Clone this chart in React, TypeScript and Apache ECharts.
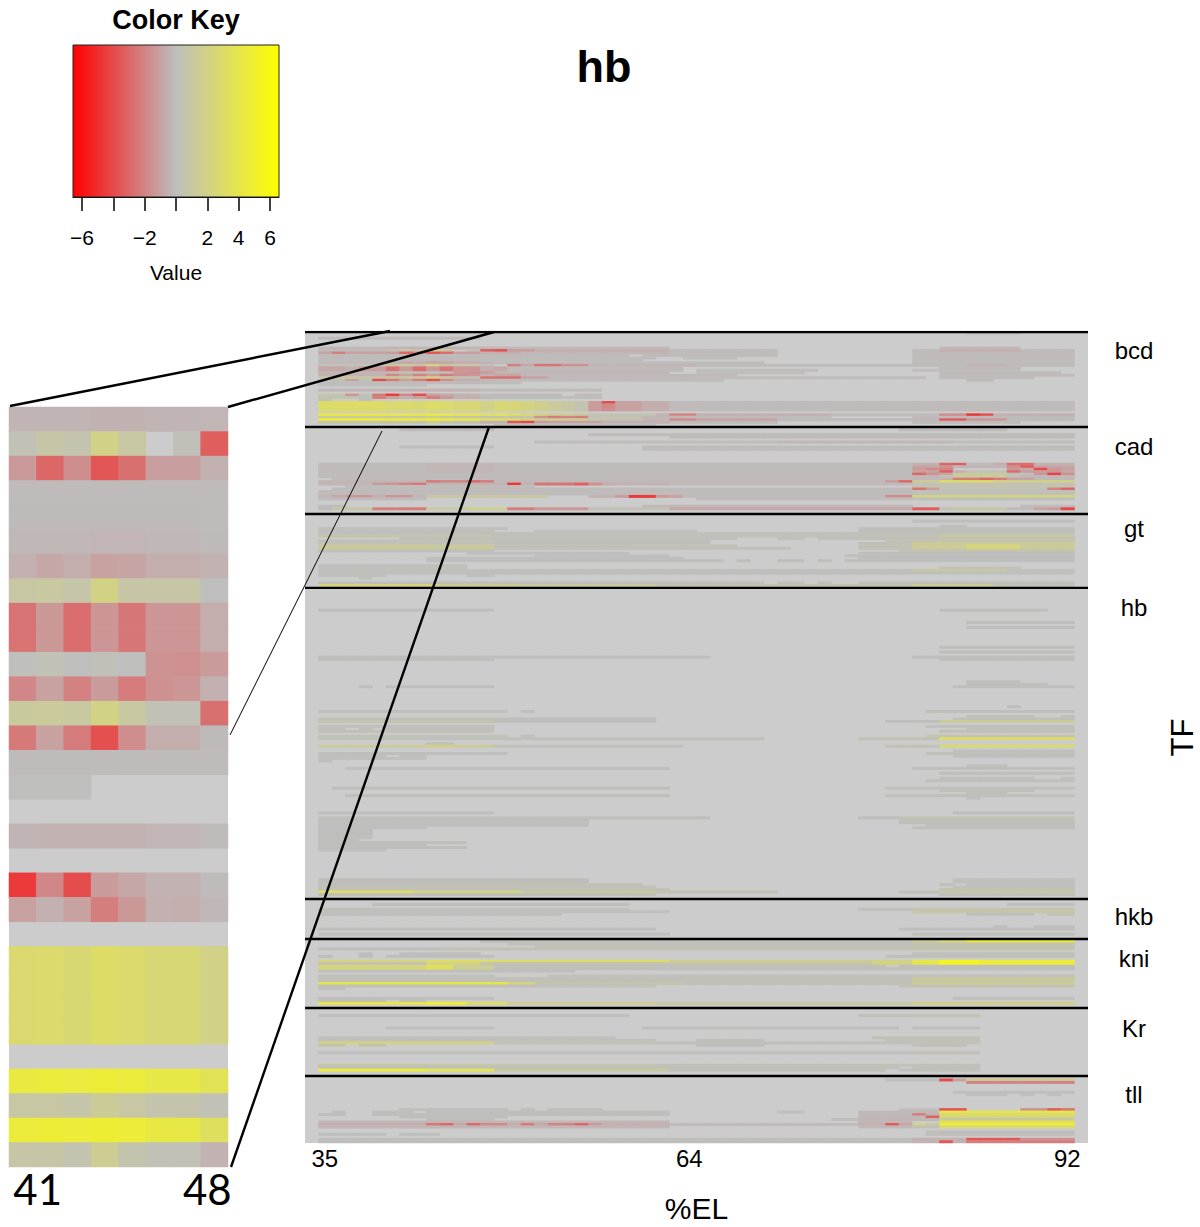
import React, { useEffect, useRef } from "react";
import * as echarts from "echarts";

type Run = [number, number, number, number];

const elColumns = Array.from({ length: 58 }, (_, i) => String(35 + i));
const detailColumns = ["41", "42", "43", "44", "45", "46", "47", "48"];
const mainTickLabels = ["35", "64", "92"];
const detailTickLabels = ["41", "48"];
const rowCount = 328;
const tfNames = ["bcd", "cad", "gt", "hb", "hkb", "kni", "Kr", "tll"];
const tfLabelRows = [7, 46, 79, 111, 236, 253, 281, 308];
const tfBoundaries = [0, 38.4, 73.6, 103.5, 229.3, 245.5, 273.4, 300.9];
const keyTicks = [-6, -4, -2, 0, 2, 4, 6];
const keyLabels = [-6, -2, 2, 4, 6];
const keyRange = 6.57;
const detailFirstRow = 6;

const n = null;
const bcdDetail: (number | null)[][] = [
  [-.35, -.35, -.35, -.45, -.45, -.35, -.35, -.3],
  [.3, .8, .55, 1.9, .9, n, .2, -3.3],
  [-1.25, -3, -1.65, -3.6, -2.7, -1.1, -1.1, -.5],
  [-.1, -.1, -.1, -.1, -.1, -.1, -.1, -.1],
  [-.15, -.15, -.15, -.15, -.15, -.15, -.15, -.1],
  [-.25, -.25, -.25, -.3, -.3, -.2, -.2, -.15],
  [-.5, -.8, -.6, -1, -.9, -.6, -.6, -.4],
  [.9, 1, .7, 2, .8, .8, .8, .05],
  [-2.6, -1.3, -2.8, -1.4, -2.5, -1.4, -1.4, -.6],
  [-2.6, -1.3, -2.8, -1.4, -2.5, -1.4, -1.4, -.6],
  [.1, .3, .05, .2, .05, -1.5, -1.6, -1.2],
  [-1.9, -1, -2.1, -1.2, -2.3, -1.6, -1.4, -.5],
  [1.1, 1.2, 1, 2, 1, .3, .3, -2.7],
  [-2.4, -1, -2.3, -3.8, -1.7, -.6, -.6, -.15],
  [-.1, -.1, -.1, -.1, -.1, -.1, -.1, -.1],
  [.05, .05, .05, n, n, n, n, n],
  [n, n, n, n, n, n, n, n],
  [-.35, -.4, -.4, -.4, -.4, -.3, -.3, -.1],
  [n, n, n, n, n, n, n, n],
  [-4.6, -1.9, -3.9, -1.2, -.8, -.4, -.4, -.1],
  [-1, -.5, -1, -2.2, -1.3, -.5, -.6, -.2],
  [n, n, n, n, n, n, n, n],
  [2.7, 2.8, 2.6, 3, 2.8, 2.5, 2.5, 1.9],
  [2.7, 2.8, 2.6, 3, 2.8, 2.5, 2.5, 1.9],
  [2.7, 2.8, 2.6, 3, 2.8, 2.5, 2.5, 1.9],
  [2.7, 2.8, 2.6, 3, 2.8, 2.5, 2.5, 1.9],
  [n, n, n, n, n, n, n, n],
  [4.3, 4.5, 4.4, 4.7, 4.5, 4.1, 4.1, 3.6],
  [.9, .9, .7, 1.3, .9, .6, .6, .3],
  [4.5, 4.7, 4.6, 4.8, 4.6, 4.2, 4.1, 3.3],
  [.8, .8, .5, 1.5, .6, .3, .3, -.4],
];

const bcdRuns: Run[] = [
  [0, 84, 87, .03], [2, 36, 47, -.1],
  [6, 36, 40, -.2], [6, 49, 61, -.2], [6, 82, 87, -.2],
  [7, 36, 40, -.15], [7, 49, 49, -3.8], [7, 50, 51, -1.2], [7, 52, 61, -.6], [7, 62, 69, -.1], [7, 80, 81, -.1], [7, 82, 87, -.6], [7, 88, 91, -.1],
  [8, 36, 36, -.9], [8, 37, 37, -2.2], [8, 38, 40, -1], [8, 49, 50, -.6], [8, 51, 61, -.3], [8, 62, 69, -.1], [8, 80, 91, -.1],
  [9, 36, 40, -.1], [9, 49, 58, -.1], [9, 60, 69, -.1], [9, 80, 91, -.1],
  [10, 36, 40, -.1], [10, 49, 60, -.1], [10, 63, 66, -.05], [10, 80, 91, -.1],
  [11, 36, 40, -.1], [11, 49, 59, -.1], [11, 80, 91, -.1],
  [12, 36, 40, -.15], [12, 49, 68, -.1], [12, 80, 91, -.1],
  [13, 36, 40, .3], [13, 50, 50, -2.2], [13, 51, 51, -.8], [13, 52, 53, -2.6], [13, 54, 55, -1.6], [13, 56, 63, -.3], [13, 64, 79, -.08], [13, 80, 83, -.1], [13, 84, 86, -.4], [13, 87, 91, -.1],
  [14, 36, 37, -.8], [14, 38, 38, -.5], [14, 39, 40, -1.2], [14, 49, 49, -.9], [14, 50, 62, -.15], [14, 82, 87, -.1],
  [15, 36, 37, -.8], [15, 38, 38, -.5], [15, 39, 40, -1.2], [15, 49, 49, -.7], [15, 50, 62, -.15], [15, 64, 72, -.08], [15, 80, 81, -.08], [15, 82, 87, -.1],
  [16, 36, 40, -.3], [16, 49, 61, -.3], [16, 64, 71, -.08], [16, 82, 90, -.1],
  [17, 36, 40, -.4], [17, 49, 49, -.8], [17, 50, 50, -1], [17, 51, 64, -.2], [17, 65, 66, -.1], [17, 82, 91, -.1],
  [18, 36, 38, 1], [18, 39, 40, .9], [18, 49, 50, -2.7], [18, 51, 52, -1], [18, 53, 63, -.2], [18, 64, 80, -.06], [18, 82, 88, -.1],
  [19, 36, 37, .2], [19, 38, 38, -1], [19, 39, 39, .2], [19, 40, 40, -4], [19, 49, 65, -.1], [19, 84, 85, -.1],
  [20, 36, 40, -.05], [20, 49, 50, -.05],
  [21, 36, 40, .05],
  [23, 36, 40, -.3], [23, 49, 56, -.15],
  [25, 36, 36, .7], [25, 37, 37, .6], [25, 38, 38, -1.4], [25, 39, 39, .3], [25, 40, 40, -2.4], [25, 49, 53, -.15], [25, 55, 56, -.1],
  [26, 36, 38, .5], [26, 39, 39, .1], [26, 40, 40, -2.2], [26, 49, 55, .05], [26, 56, 56, .05],
  [27, 36, 36, .2], [27, 39, 39, .05],
  [28, 36, 40, 3], [28, 49, 49, 2.6], [28, 50, 50, 2.4], [28, 51, 51, 2.1], [28, 52, 52, 1.7], [28, 53, 53, 1.2], [28, 54, 54, .9], [28, 55, 55, .5], [28, 56, 56, -1.2], [28, 57, 57, -3.8], [28, 58, 59, -1], [28, 60, 61, -.6], [28, 62, 91, -.1],
  [29, 36, 40, 3], [29, 49, 49, 2.6], [29, 50, 50, 2.4], [29, 51, 51, 2.1], [29, 52, 52, 1.7], [29, 53, 53, 1.2], [29, 54, 54, .9], [29, 55, 55, .5], [29, 56, 56, -1.2], [29, 57, 57, -1.8], [29, 58, 59, -1], [29, 60, 61, -.6], [29, 62, 91, -.1],
  [30, 36, 40, 3], [30, 49, 49, 2.6], [30, 50, 50, 2.4], [30, 51, 51, 2.1], [30, 52, 52, 1.7], [30, 53, 53, 1.2], [30, 54, 54, .9], [30, 55, 55, .5], [30, 56, 56, -1.2], [30, 57, 57, -1.8], [30, 58, 59, -1], [30, 60, 61, -.6], [30, 62, 91, -.1],
  [31, 36, 40, 3], [31, 49, 49, 2.6], [31, 50, 50, 2.4], [31, 51, 51, 2.1], [31, 52, 52, 1.7], [31, 53, 53, 1.2], [31, 54, 54, .9], [31, 55, 55, .5], [31, 56, 56, -1.2], [31, 57, 57, -1.7], [31, 58, 59, -1], [31, 60, 61, -.6], [31, 62, 91, -.1],
  [33, 36, 40, 4.6], [33, 49, 49, 3.8], [33, 50, 50, 3.3], [33, 51, 51, 2.7], [33, 52, 52, 2.2], [33, 53, 54, 1.6], [33, 55, 55, 1.1], [33, 56, 60, .4], [33, 61, 61, -.4], [33, 62, 63, -2], [33, 64, 73, -.5], [33, 74, 79, -.1], [33, 80, 81, -.1], [33, 82, 83, -1.7], [33, 84, 84, -4.8], [33, 85, 85, -3.8], [33, 86, 91, -.5],
  [34, 36, 40, 1], [34, 49, 51, .5], [34, 52, 52, -1.5], [34, 53, 53, -2.3], [34, 54, 54, -2], [34, 55, 55, -2.2], [34, 56, 59, .3], [34, 60, 62, -.3], [34, 63, 73, -.1], [34, 80, 91, -.15],
  [35, 36, 40, 4.8], [35, 49, 49, 3.2], [35, 50, 50, 2.8], [35, 51, 51, 2], [35, 52, 55, 1.5], [35, 56, 59, .6], [35, 60, 61, -.3], [35, 62, 63, -1.8], [35, 64, 69, -1], [35, 70, 79, -.1], [35, 80, 81, -.3], [35, 82, 83, -3.4], [35, 84, 86, -1.4], [35, 87, 91, -.1],
  [36, 36, 40, .6], [36, 49, 49, -.4], [36, 50, 50, -3.6], [36, 51, 51, -4.2], [36, 52, 52, -1.2], [36, 53, 56, -1], [36, 57, 61, -.5], [36, 62, 69, -.1], [36, 80, 87, -.1],
  [37, 49, 60, -.08],
];

const cadRuns: Run[] = [
  [39, 42, 48, -.1], [39, 79, 86, -.1],
  [41, 56, 91, -.1], [42, 62, 91, -.1],
  [44, 52, 69, -.08], [44, 70, 82, -.3], [44, 83, 91, -.05],
  [46, 42, 48, -.08], [46, 60, 91, -.08], [47, 60, 91, -.08],
  [53, 36, 43, -.1], [53, 44, 48, -.3], [53, 49, 79, -.1], [53, 80, 81, -.5], [53, 82, 82, -3], [53, 83, 83, -3.3], [53, 84, 85, -.2], [53, 86, 86, -.6], [53, 87, 88, -2.8], [53, 89, 91, -.5],
  [54, 36, 43, -.1], [54, 44, 48, -.3], [54, 49, 79, -.1], [54, 80, 80, -1], [54, 81, 81, -.8], [54, 82, 82, -1.5], [54, 83, 86, -.3], [54, 87, 87, -1.7], [54, 88, 88, -3.4], [54, 89, 89, -1], [54, 90, 91, -.8],
  [55, 36, 43, -.1], [55, 44, 48, -.3], [55, 49, 79, -.1], [55, 80, 80, -1.2], [55, 81, 81, -1.8], [55, 82, 82, -2], [55, 87, 87, -1.3], [55, 88, 88, -.8], [55, 89, 89, -4], [55, 90, 90, -1.4], [55, 91, 91, -1],
  [56, 36, 43, -.1], [56, 44, 48, -.3], [56, 49, 79, -.1], [56, 80, 81, -1], [56, 82, 82, -3.2], [56, 83, 83, -.5], [56, 84, 86, .3], [56, 87, 87, -2.9], [56, 88, 89, -1.2], [56, 90, 90, -1.4], [56, 91, 91, -.8],
  [57, 36, 79, -.1], [57, 80, 80, -3], [57, 81, 81, -1.5], [57, 82, 82, -.8], [57, 83, 86, 1], [57, 87, 88, .2], [57, 89, 89, -1.4], [57, 90, 90, -4.4], [57, 91, 91, -1.6],
  [58, 36, 79, -.1], [58, 80, 81, -.3], [58, 82, 82, .3], [58, 83, 86, 1.3], [58, 87, 87, .3], [58, 88, 91, -.2],
  [59, 37, 79, -.1], [59, 80, 81, -.2], [59, 82, 82, -.4], [59, 83, 83, -2.2], [59, 84, 84, -2.4], [59, 85, 85, -3], [59, 86, 86, -2.3], [59, 87, 88, -.9], [59, 89, 91, -.2],
  [60, 36, 43, -.3], [60, 44, 44, -2.4], [60, 45, 46, -2], [60, 47, 47, -3], [60, 48, 48, -2.3], [60, 49, 77, -.2], [60, 78, 78, -1.2], [60, 79, 79, -3], [60, 80, 81, 1.3], [60, 82, 85, 3], [60, 86, 91, 2],
  [61, 36, 39, -.3], [61, 40, 40, -1.2], [61, 41, 41, -1.5], [61, 42, 42, -2], [61, 43, 43, -2.5], [61, 44, 49, -.4], [61, 50, 50, -4.6], [61, 51, 51, -.5], [61, 52, 53, -2.5], [61, 54, 54, -2.6], [61, 55, 55, -3.2], [61, 56, 56, -1.6], [61, 57, 57, -.6], [61, 58, 61, -.4], [61, 62, 79, -.15], [61, 80, 91, .3],
  [62, 38, 51, -.06], [62, 80, 91, .5],
  [63, 37, 79, -.1], [63, 80, 80, -2.6], [63, 81, 81, -1.2], [63, 82, 89, .3], [63, 90, 90, -2], [63, 91, 91, -3],
  [64, 36, 79, -.1], [64, 80, 91, .2],
  [65, 36, 56, -.1], [65, 57, 79, -.08], [65, 80, 91, .1],
  [66, 36, 36, -.3], [66, 37, 37, -.8], [66, 38, 39, -1.4], [66, 40, 40, -.6], [66, 41, 42, -1.4], [66, 43, 43, -.2], [66, 44, 52, .9], [66, 56, 57, -.4], [66, 58, 58, -1.1], [66, 59, 60, -4.6], [66, 61, 61, -1.2], [66, 62, 62, -1], [66, 63, 77, -.1], [66, 78, 79, -1.8], [66, 80, 91, 2.2],
  [67, 36, 43, -.1], [67, 64, 79, -.1], [67, 80, 91, .1],
  [70, 36, 37, -.1], [70, 60, 79, -.3], [70, 88, 91, -.1],
  [71, 36, 36, -.2], [71, 37, 39, .8], [71, 40, 41, -2.2], [71, 42, 43, -2.4], [71, 44, 46, 1], [71, 47, 49, 1.6], [71, 50, 51, -2.2], [71, 52, 55, -1.4], [71, 56, 61, .3], [71, 62, 79, -.8], [71, 80, 81, -3.4], [71, 82, 82, .3], [71, 83, 86, .9], [71, 87, 88, -.1], [71, 89, 89, -.9], [71, 90, 90, -1.2], [71, 91, 91, -4.2],
];

const gtRuns: Run[] = [
  [76, 80, 91, .05], [78, 82, 83, .05], [79, 36, 49, .1], [79, 76, 91, .1],
  [80, 36, 48, .1], [80, 52, 63, .1], [80, 76, 91, .15],
  [81, 36, 91, .1],
  [82, 36, 48, .6], [82, 49, 69, .2], [82, 70, 81, .3], [82, 82, 91, 1.1],
  [83, 42, 66, .1], [83, 70, 71, .1], [83, 73, 81, .15], [83, 82, 91, .4],
  [84, 36, 48, .2], [84, 49, 64, .1], [84, 78, 91, .5],
  [85, 36, 48, .3], [85, 49, 64, .15], [85, 76, 79, .15], [85, 80, 91, 1.2],
  [86, 36, 48, 1], [86, 49, 66, .2], [86, 76, 79, .3], [86, 80, 83, 1.5], [86, 84, 87, 2.4], [86, 88, 91, 1.2],
  [87, 36, 48, 1.3], [87, 49, 70, .2], [87, 76, 79, .2], [87, 80, 83, 1.2], [87, 84, 87, 2.2], [87, 88, 91, 1.3],
  [88, 36, 48, .05], [88, 79, 91, .4],
  [89, 47, 58, .05], [89, 76, 91, .05],
  [90, 52, 61, .08], [90, 75, 91, .05],
  [91, 44, 62, .05], [91, 76, 91, .05],
  [92, 44, 65, .05], [92, 67, 67, .05], [92, 70, 71, .05], [92, 73, 73, .05], [92, 75, 91, .05],
  [94, 36, 46, .1], [95, 36, 46, .1], [95, 82, 87, .3],
  [96, 36, 48, .1], [96, 49, 79, .05], [96, 80, 86, .9], [96, 87, 91, .1],
  [97, 36, 47, .1], [97, 48, 79, .05], [97, 80, 91, .1],
  [98, 36, 40, .1], [98, 47, 48, .05], [99, 39, 39, .1],
  [101, 36, 68, .06], [101, 70, 71, .06], [101, 73, 73, .06], [101, 76, 91, .1],
  [102, 36, 44, 2.2], [102, 45, 50, 1.5], [102, 51, 60, 1], [102, 61, 79, .6], [102, 80, 85, 1.4], [102, 86, 91, .3],
];

const hbRuns: Run[] = [
  [112, 36, 48, .05], [112, 82, 89, .05], [117, 84, 91, .05], [119, 84, 91, .05],
  [127, 82, 91, .05], [129, 82, 91, .05],
  [131, 36, 48, .05], [131, 49, 64, .03], [131, 80, 91, .05], [132, 36, 48, .05], [132, 82, 91, .05],
  [141, 84, 87, .05], [142, 84, 89, .05], [143, 39, 39, .05], [143, 41, 48, .05], [143, 83, 91, .05],
  [151, 87, 87, .05], [153, 36, 49, .1], [153, 51, 51, .05], [153, 81, 91, .15],
  [155, 84, 88, .05], [155, 91, 91, .05],
  [156, 36, 49, .2], [156, 50, 60, .03], [156, 83, 91, .1],
  [157, 36, 48, .5], [157, 49, 60, .05], [157, 78, 81, .05], [157, 82, 91, 1.3],
  [159, 36, 48, .1], [159, 81, 91, .1],
  [160, 36, 37, .08], [160, 39, 39, .08], [160, 41, 48, .08], [160, 84, 91, .08],
  [161, 36, 48, .2], [161, 82, 91, .2],
  [163, 36, 49, .3], [163, 51, 51, .05], [163, 81, 91, .6],
  [164, 36, 68, .1], [164, 76, 81, .3], [164, 82, 91, 3],
  [166, 44, 45, .3],
  [167, 36, 43, 1.2], [167, 44, 45, 1.8], [167, 46, 48, 1.2], [167, 49, 62, .1], [167, 78, 81, .3], [167, 82, 91, 2.6],
  [169, 83, 91, .1], [170, 36, 49, .05], [170, 81, 91, .1],
  [171, 36, 40, .08], [171, 42, 43, .08], [171, 83, 91, .05],
  [172, 36, 43, .08], [173, 36, 36, .05],
  [175, 84, 86, .05], [176, 38, 61, .05], [176, 80, 91, .05],
  [178, 82, 91, .08], [180, 82, 88, .08], [180, 91, 91, .08], [181, 81, 91, .08],
  [184, 37, 61, .05], [184, 78, 91, .08], [185, 82, 88, .08], [186, 84, 86, .05],
  [187, 38, 61, .05], [187, 78, 91, .1], [188, 84, 84, .05],
  [194, 36, 48, .05], [194, 83, 91, .05],
  [196, 36, 63, .1], [196, 64, 64, .05], [196, 76, 78, .05], [196, 79, 91, .4],
  [197, 36, 55, .05], [197, 79, 91, .1],
  [198, 36, 55, .1], [198, 79, 91, .15],
  [199, 36, 55, .05], [199, 81, 91, .05],
  [200, 36, 43, .05], [200, 80, 91, .05],
  [201, 36, 39, .05], [202, 36, 39, .05], [203, 36, 39, .05], [204, 36, 39, .05], [205, 36, 38, .05],
  [206, 36, 46, .05], [207, 36, 43, .05], [208, 36, 46, .05], [209, 36, 40, .05],
  [221, 36, 55, .15], [221, 83, 91, .08],
  [222, 36, 55, .15], [222, 83, 91, .08],
  [223, 36, 59, .2], [223, 82, 82, .08], [223, 84, 91, .08],
  [224, 36, 60, .2], [224, 83, 91, .1],
  [225, 36, 61, .3], [225, 82, 91, .3],
  [226, 36, 42, 3.3], [226, 43, 50, 2.2], [226, 51, 60, 1], [226, 61, 69, .4], [226, 79, 81, .2], [226, 82, 91, .8],
  [227, 36, 60, .2], [227, 82, 91, .1],
];

const hkbRuns: Run[] = [
  [231, 40, 58, .03], [231, 87, 91, .03],
  [233, 36, 58, .1], [233, 76, 79, .1], [233, 80, 91, .5],
  [234, 36, 61, .1], [234, 80, 91, .8],
  [235, 36, 53, .05], [235, 84, 88, .05], [235, 90, 91, .3],
  [240, 86, 86, .05], [240, 89, 91, .05],
  [241, 36, 60, .05], [241, 79, 91, .05],
  [243, 36, 61, .05], [243, 80, 91, .05],
];

const kniRuns: Run[] = [
  [246, 48, 64, .05], [246, 64, 79, .2], [246, 80, 81, 1.2], [246, 82, 83, 2.5], [246, 84, 91, 4.5],
  [247, 50, 79, .2], [247, 80, 91, .5],
  [248, 52, 79, .2], [248, 80, 91, .3],
  [249, 36, 44, .1], [249, 45, 79, .3], [249, 80, 91, .6],
  [251, 39, 39, .05], [251, 42, 47, .05], [251, 80, 91, .1],
  [252, 36, 36, .05], [252, 39, 39, .05], [252, 41, 48, .05], [252, 78, 91, .1],
  [254, 36, 43, 2.2], [254, 44, 61, 3], [254, 62, 76, 1.5], [254, 77, 79, 2], [254, 80, 81, 4], [254, 82, 84, 5.5], [254, 85, 91, 4.6],
  [255, 36, 43, .2], [255, 44, 47, 2], [255, 48, 61, .3], [255, 62, 76, .8], [255, 77, 79, 2], [255, 80, 81, 4], [255, 82, 84, 5.5], [255, 85, 91, 4.6],
  [256, 36, 43, 2.3], [256, 44, 45, 3.2], [256, 46, 48, 1.5], [256, 49, 60, .2], [256, 61, 77, .1], [256, 79, 91, .1],
  [257, 36, 43, 2.3], [257, 44, 45, 3.2], [257, 46, 48, 1.5], [257, 49, 60, .2], [257, 61, 91, .1],
  [258, 36, 54, .1],
  [260, 36, 48, .1], [260, 53, 91, .1],
  [261, 36, 79, .2], [261, 80, 91, 1.2],
  [262, 36, 79, .2], [262, 80, 91, .8],
  [263, 36, 49, 4], [263, 50, 51, 2.2], [263, 52, 62, .6], [263, 63, 79, .2], [263, 80, 91, 1.5],
  [264, 36, 50, .2], [264, 51, 60, .08], [264, 79, 91, .4],
  [265, 36, 37, .1],
  [269, 36, 48, .05], [269, 83, 91, .05],
  [270, 36, 38, .08], [270, 39, 40, .08], [270, 42, 43, .08],
  [271, 36, 43, 4], [271, 44, 46, 5], [271, 47, 49, 3], [271, 50, 60, 1.5], [271, 61, 79, .9], [271, 80, 91, 1.8],
];

const krRuns: Run[] = [
  [276, 36, 58, .05], [276, 76, 79, .1], [276, 80, 84, .4],
  [281, 41, 48, .05], [281, 60, 78, .05], [281, 80, 84, .05],
  [285, 36, 57, .1], [285, 77, 84, .2],
  [286, 36, 60, .1], [286, 64, 68, .08], [286, 78, 84, .2],
  [287, 36, 48, 2], [287, 49, 60, .4], [287, 61, 79, .1], [287, 80, 84, .3],
  [288, 36, 37, .6], [288, 39, 40, .6], [288, 64, 68, .05], [288, 80, 83, .1],
  [291, 36, 79, .1], [291, 80, 84, .3],
  [296, 36, 60, .7], [296, 61, 84, .3],
  [297, 36, 78, .1], [297, 80, 84, .1],
  [298, 36, 43, 4.5], [298, 44, 48, 3.7], [298, 49, 61, 1], [298, 62, 77, .2], [298, 79, 84, .1],
];

const tllRuns: Run[] = [
  [302, 78, 81, .05], [302, 82, 82, -4], [302, 83, 83, -1], [302, 84, 91, 1.3],
  [303, 84, 91, -2],
  [307, 83, 91, .05], [308, 84, 86, .05], [308, 88, 88, .05], [308, 90, 90, .05],
  [314, 42, 43, .05], [314, 44, 49, .05], [314, 51, 51, .05], [314, 53, 56, .05], [314, 79, 81, .05], [314, 82, 83, -3.7], [314, 88, 88, -1.5], [314, 89, 89, -1.6], [314, 90, 90, -3.5], [314, 91, 91, -2.5],
  [315, 37, 37, .05], [315, 40, 42, .05], [315, 44, 61, .05], [315, 70, 71, .05], [315, 76, 81, -.2], [315, 82, 91, 4],
  [316, 36, 37, .05], [316, 40, 61, .05], [316, 76, 79, -.2], [316, 80, 80, -2.2], [316, 81, 81, -.4], [316, 82, 91, 3],
  [317, 42, 49, .05], [317, 76, 80, -.2], [317, 81, 81, -3.2], [317, 82, 91, 2.2],
  [318, 44, 47, .05], [318, 48, 48, .05], [318, 74, 75, .05], [318, 76, 81, -.3], [318, 82, 91, 1],
  [319, 36, 61, -.3], [319, 76, 79, -.3], [319, 82, 91, 3.5],
  [320, 36, 43, -.6], [320, 44, 44, -2.5], [320, 45, 45, -3], [320, 46, 46, -.8], [320, 47, 47, -3], [320, 48, 49, -1.8], [320, 50, 50, -.6], [320, 51, 51, -2.4], [320, 52, 52, -.7], [320, 53, 54, -2], [320, 55, 55, -3], [320, 56, 56, -1.2], [320, 57, 61, -.5], [320, 62, 75, -.1], [320, 76, 77, -.4], [320, 78, 78, -3.5], [320, 79, 79, -.8], [320, 80, 80, 2], [320, 81, 81, 1], [320, 82, 91, 4.6],
  [321, 36, 61, -.3], [321, 76, 79, -.2], [321, 80, 81, .2], [321, 82, 91, 2.5],
  [323, 81, 91, .05],
  [324, 36, 40, .05], [324, 42, 44, .05], [324, 81, 91, .1],
  [326, 36, 60, .05], [326, 61, 79, .03], [326, 80, 82, -.4], [326, 83, 83, -.5], [326, 84, 87, -3.6], [326, 88, 91, -1.6],
  [327, 36, 60, .05], [327, 61, 79, .03], [327, 80, 81, -.4], [327, 82, 82, -3.6], [327, 83, 83, -.5], [327, 84, 91, -2.2],
];

const allRuns: Run[] = [...bcdRuns, ...cadRuns, ...gtRuns, ...hbRuns, ...hkbRuns, ...kniRuns, ...krRuns, ...tllRuns];

function buildMainCells() {
  const cells: [number, number, number][] = [];
  for (const [row, from, to, value] of allRuns) {
    for (let c = from; c <= to; c++) cells.push([c - 35, row, value]);
  }
  bcdDetail.forEach((line, r) =>
    line.forEach((v, i) => {
      if (v !== null) cells.push([i + 6, r + detailFirstRow, v]);
    })
  );
  return cells;
}

function buildDetailCells() {
  const cells: [number, number, number][] = [];
  bcdDetail.forEach((line, r) =>
    line.forEach((v, i) => {
      if (v !== null) cells.push([i, r, v]);
    })
  );
  return cells;
}

const SANS = '"Liberation Sans", Arial, sans-serif';
const callouts = [
  { x1: 10, y1: 406, x2: 390, y2: 331, w: 2.4 },
  { x1: 228, y1: 407, x2: 494, y2: 332, w: 2.4 },
  { x1: 230, y1: 735, x2: 382, y2: 431, w: 1 },
  { x1: 231, y1: 1167, x2: 489, y2: 427, w: 2.4 },
];

export default function App() {
  const ref = useRef<HTMLDivElement>(null);
  useEffect(() => {
    const chart = echarts.init(ref.current!, undefined, { renderer: "svg" });
    const sepData: any[] = [];
    tfBoundaries.forEach((b) => {
      sepData.push([0, b], [1, b], ["-", "-"]);
    });
    const rowCats = Array.from({ length: rowCount }, (_, i) => String(i));
    const detailRowCats = bcdDetail.map((_, i) => String(i));
    chart.setOption({
      animation: false,
      backgroundColor: "#ffffff",
      title: [
        { text: "hb", left: 599, top: 39, textAlign: "center", textStyle: { fontFamily: SANS, fontWeight: "bold", fontSize: 45, color: "#000" } },
        { text: "Color Key", left: 171, top: 1, textAlign: "center", textStyle: { fontFamily: SANS, fontWeight: "bold", fontSize: 27, color: "#000" } },
      ],
      visualMap: {
        show: false, type: "continuous", min: -keyRange, max: keyRange, seriesIndex: [0, 1], dimension: 2,
        inRange: { color: ["#ff0000", "#bebebe", "#ffff00"] },
      },
      grid: [
        { left: 305, top: 332, width: 783, height: 811, show: true, backgroundColor: "#cccccc", borderWidth: 0, outerBoundsMode: "none" },
        { left: 9, top: 407, width: 219, height: 760, show: true, backgroundColor: "#cccccc", borderWidth: 0, outerBoundsMode: "none" },
        { left: 73, top: 45, width: 206, height: 152, show: false, outerBoundsMode: "none" },
      ],
      xAxis: [
        {
          type: "category", gridIndex: 0, data: elColumns, position: "bottom",
          name: "%EL", nameLocation: "middle", nameGap: 50,
          nameTextStyle: { fontFamily: SANS, fontSize: 30, color: "#000" },
          axisLine: { show: false }, axisTick: { show: false }, splitLine: { show: false },
          axisLabel: {
            interval: (_: number, v: string) => mainTickLabels.includes(v), margin: 3,
            formatter: (v: string) => (v === "35" ? `{r|${v}}` : `{l|${v}}`),
            rich: {
              r: { fontFamily: SANS, fontSize: 24, color: "#000", padding: [0, 0, 0, 26] },
              l: { fontFamily: SANS, fontSize: 24, color: "#000", padding: [0, 28, 0, 0] },
            },
          },
        },
        {
          type: "category", gridIndex: 1, data: detailColumns, position: "bottom",
          axisLine: { show: false }, axisTick: { show: false }, splitLine: { show: false },
          axisLabel: {
            interval: (_: number, v: string) => detailTickLabels.includes(v), margin: 1,
            formatter: (v: string) => (v === "41" ? `{r|${v}}` : `{l|${v}}`),
            rich: {
              r: { fontFamily: "Lato, sans-serif", fontSize: 42, color: "#000", padding: [0, 0, 0, 30] },
              l: { fontFamily: "Lato, sans-serif", fontSize: 42, color: "#000", padding: [0, 14, 0, 0] },
            },
          },
        },
        {
          type: "value", gridIndex: 2, min: -keyRange, max: keyRange, position: "bottom",
          name: "Value", nameLocation: "middle", nameGap: 65,
          nameTextStyle: { fontFamily: SANS, fontSize: 21, color: "#000" },
          splitLine: { show: false },
          axisLine: { show: true, lineStyle: { color: "#000", width: 1 } },
          axisTick: { show: true, length: 14, lineStyle: { color: "#000", width: 1.5 }, customValues: keyTicks },
          axisLabel: {
            margin: 30, fontFamily: SANS, fontSize: 21, color: "#000", customValues: keyLabels,
            formatter: (v: number) => String(v).replace("-", "\u2212"),
          },
        },
        { type: "value", gridIndex: 0, min: 0, max: 1, show: false },
      ],
      yAxis: [
        {
          type: "category", gridIndex: 0, data: rowCats, inverse: true, position: "right",
          name: "TF", nameLocation: "middle", nameGap: 79, nameRotate: 90,
          nameTextStyle: { fontFamily: SANS, fontSize: 31, color: "#000" },
          axisLine: { show: false }, axisTick: { show: false }, splitLine: { show: false },
          axisLabel: {
            interval: (i: number) => tfLabelRows.includes(i), align: "center", margin: 46,
            fontFamily: SANS, fontSize: 24, color: "#000",
            formatter: (_: string, i: number) => tfNames[tfLabelRows.indexOf(i)] ?? "",
          },
        },
        { type: "category", gridIndex: 1, data: detailRowCats, inverse: true, show: false },
        { type: "value", gridIndex: 2, min: 0, max: 1, show: false },
        { type: "value", gridIndex: 0, min: 0, max: rowCount, inverse: true, show: false },
      ],
      series: [
        {
          type: "heatmap", xAxisIndex: 0, yAxisIndex: 0, data: buildMainCells(), progressive: 0,
          silent: true, itemStyle: { borderWidth: 0 }, emphasis: { disabled: true },
        },
        {
          type: "heatmap", xAxisIndex: 1, yAxisIndex: 1, data: buildDetailCells(), progressive: 0,
          silent: true, itemStyle: { borderWidth: 0 }, emphasis: { disabled: true },
        },
        {
          type: "custom", xAxisIndex: 2, yAxisIndex: 2, silent: true, data: [[-keyRange, 0, keyRange, 1]], encode: { x: [0, 2], y: [1, 3] },
          renderItem: (_: any, api: any) => {
            const a = api.coord([api.value(0), api.value(3)]);
            const b = api.coord([api.value(2), api.value(1)]);
            return {
              type: "rect",
              shape: { x: a[0], y: a[1], width: b[0] - a[0], height: b[1] - a[1] },
              style: {
                stroke: "#222", lineWidth: 1,
                fill: new echarts.graphic.LinearGradient(0, 0, 1, 0, [
                  { offset: 0, color: "#ff0000" },
                  { offset: 0.5, color: "#bebebe" },
                  { offset: 1, color: "#ffff00" },
                ]),
              },
            };
          },
        },
        {
          type: "line", xAxisIndex: 3, yAxisIndex: 3, data: sepData, showSymbol: false, symbol: "none", silent: true, z: 5,
          connectNulls: false, lineStyle: { color: "#000", width: 2.4 },
        },
      ],
      graphic: callouts.map((c) => ({
        type: "line", silent: true, z: 100,
        shape: { x1: c.x1, y1: c.y1, x2: c.x2, y2: c.y2 },
        style: { stroke: "#000", lineWidth: c.w },
      })),
    });
    return () => chart.dispose();
  }, []);
  return <div ref={ref} style={{ position: "absolute", left: 0, top: 0, width: 1200, height: 1227 }} />;
}
